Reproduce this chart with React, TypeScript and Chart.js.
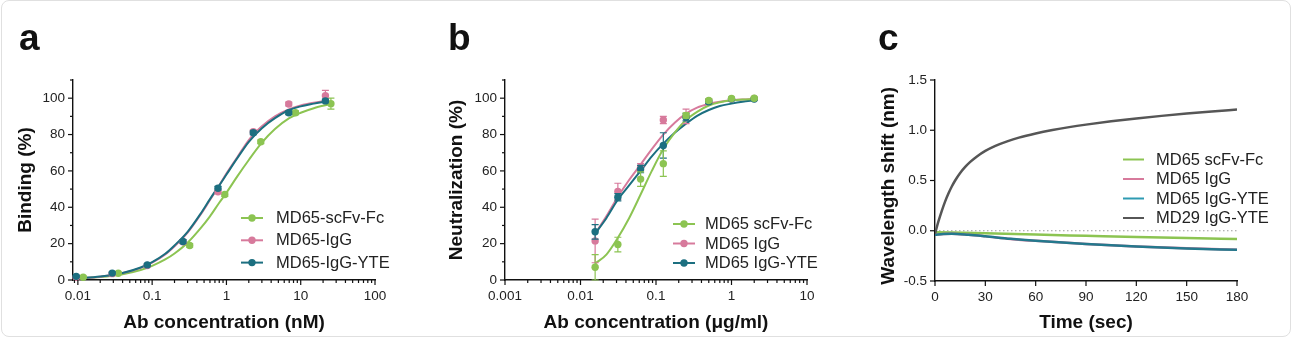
import React, { useEffect, useRef } from 'react';
import { Chart, registerables } from 'chart.js';

Chart.register(...registerables);

const FONT = "'Liberation Sans', Arial, Helvetica, sans-serif";
Chart.defaults.font.family = FONT;
Chart.defaults.color = '#222';

const GREEN = '#8cc452';
const PINK = '#d77a9c';
const TEAL = '#1c6f80';
const TEAL_C = '#24798d';
const GRAY = '#565656';
const AXIS = '#111111';

// ---------------- Panel a : binding ----------------
const aSeriesNames = ['MD65-scFv-Fc', 'MD65-IgG', 'MD65-IgG-YTE'];
const aXTickValues = [0.01, 0.1, 1, 10, 100];
const aXTickLabels = ['0.01', '0.1', '1', '10', '100'];
const aYTickValues = [0, 10, 20, 30, 40, 50, 60, 70, 80, 90, 100, 110];
const aYTickLabels = ['0', '', '20', '', '40', '', '60', '', '80', '', '100', ''];

const aScfvConc = [0.0118, 0.035, 0.32, 0.95, 2.9, 8.5, 25.5];
const aScfvBinding = [1.5, 3.7, 19, 47, 76, 92, 97];
const aScfvErr = [0.6, 0.6, 1, 1, 1, 1, 3];
const aIgGConc = [0.0095, 0.029, 0.086, 0.26, 0.77, 2.3, 6.9, 21.5];
const aIgGBinding = [1.5, 3.5, 8, 21, 48.5, 81.5, 96.8, 101.3];
const aIgGErr = [0.5, 0.5, 0.6, 1, 1, 1, 1, 3];
const aYteConc = [0.0095, 0.029, 0.086, 0.26, 0.77, 2.3, 6.9, 21.5];
const aYteBinding = [2, 3.8, 8.3, 21.2, 50.5, 81, 92, 98.5];
const aYteErr = [0.5, 0.5, 0.6, 1, 1, 1, 1, 1];

const aScfvFitConc = [0.0095, 0.02, 0.04, 0.07, 0.1, 0.15, 0.2, 0.3, 0.45, 0.6, 0.8, 1, 1.4, 2, 3, 4.5, 7, 10, 15, 25.5];
const aScfvFit = [0.8, 1.6, 3.2, 5.5, 7.8, 11.3, 14.6, 20.5, 28.5, 35, 42.5, 48, 57, 66, 75.5, 83, 89, 92, 94.5, 96.8];
const aIgGFitConc = [0.0095, 0.02, 0.04, 0.07, 0.1, 0.15, 0.2, 0.3, 0.45, 0.6, 0.8, 1, 1.4, 2, 3, 4.5, 7, 10, 15, 21.5];
const aIgGFit = [0.8, 1.8, 3.8, 6.7, 9.5, 14, 18.5, 26, 36, 44, 52, 58.5, 67.5, 77, 84.5, 90, 94, 96, 97.5, 98.5];
const aYteFitConc = [0.0095, 0.02, 0.04, 0.07, 0.1, 0.15, 0.2, 0.3, 0.45, 0.6, 0.8, 1, 1.4, 2, 3, 4.5, 7, 10, 15, 21.5];
const aYteFit = [0.9, 1.9, 3.9, 6.9, 9.8, 14.4, 19, 26.5, 36.5, 44.5, 52, 58, 67, 76, 83.5, 89, 93.5, 95.5, 97, 98.2];

// ---------------- Panel b : neutralization ----------------
const bSeriesNames = ['MD65 scFv-Fc', 'MD65 IgG', 'MD65 IgG-YTE'];
const bXTickValues = [0.001, 0.01, 0.1, 1, 10];
const bXTickLabels = ['0.001', '0.01', '0.1', '1', '10'];
const bYTickValues = [0, 10, 20, 30, 40, 50, 60, 70, 80, 90, 100, 110];
const bYTickLabels = ['0', '', '20', '', '40', '', '60', '', '80', '', '100', ''];

const bConc = [0.015625, 0.03125, 0.0625, 0.125, 0.25, 0.5, 1, 2];
const bScfv = [7, 19.5, 55.5, 64, 90.5, 98.7, 99.8, 100];
const bScfvErr = [7, 4, 4, 7, 1.5, 1, 0.5, 0.5];
const bIgG = [21.5, 48.7, 62, 88, 90, 98.5, 99.5, 99.8];
const bIgGErr = [12, 4.5, 2, 2, 4, 1, 0.5, 0.5];
const bYte = [26.5, 45.5, 61, 74, 89.5, 98, 99.5, 99.5];
const bYteErr = [4, 2, 2, 7, 2, 1, 0.5, 0.5];

const bFitConc = [0.0156, 0.022, 0.031, 0.044, 0.0625, 0.088, 0.125, 0.177, 0.25, 0.35, 0.5, 0.7, 1, 1.4, 2];
const bScfvFit = [9, 14, 23, 34, 47, 60, 72, 81, 88, 92.5, 96, 97.8, 98.8, 99.3, 99.5];
const bIgGFit = [25.5, 35, 45.5, 55, 63.5, 72, 80, 86.5, 91.5, 94.8, 96.8, 98, 98.8, 99.3, 99.5];
const bYteFit = [25.5, 34, 44, 52, 60, 68, 75, 81, 86, 90.3, 93.5, 95.7, 97, 98, 98.8];

// ---------------- Panel c : kinetics ----------------
const cSeriesNames = ['MD65 scFv-Fc', 'MD65 IgG', 'MD65 IgG-YTE', 'MD29 IgG-YTE'];
const cXTickValues = [0, 30, 60, 90, 120, 150, 180];
const cXTickLabels = ['0', '30', '60', '90', '120', '150', '180'];
const cYTickValues = [-0.5, 0, 0.5, 1, 1.5];
const cYTickLabels = ['-0.5', '0.0', '0.5', '1.0', '1.5'];

const cScfvTime = [0, 30, 60, 90, 120, 150, 180];
const cScfvShift = [-0.015, -0.025, -0.038, -0.05, -0.062, -0.073, -0.083];
const cIgGTime = [0, 5, 10, 20, 30, 45, 60, 90, 120, 150, 180];
const cIgGShift = [-0.04, -0.033, -0.031, -0.041, -0.056, -0.081, -0.1, -0.131, -0.156, -0.175, -0.188];
const cYteTime = [0, 5, 10, 20, 30, 45, 60, 90, 120, 150, 180];
const cYteShift = [-0.04, -0.032, -0.03, -0.04, -0.055, -0.08, -0.1, -0.132, -0.157, -0.176, -0.19];
const cMd29Time = [0, 2, 4, 6, 8, 10, 12, 15, 18, 21, 25, 30, 36, 43, 50, 60, 70, 80, 90, 105, 120, 135, 150, 165, 180];
const cMd29Shift = [-0.03, 0.09, 0.195, 0.29, 0.37, 0.44, 0.5, 0.575, 0.635, 0.685, 0.74, 0.795, 0.845, 0.89, 0.927, 0.968, 1.002, 1.031, 1.056, 1.089, 1.118, 1.143, 1.166, 1.187, 1.206];
const cBaselineTime = [0, 180];
const cBaselineShift = [0, 0];

// ---------------- helpers ----------------
function buildLogTicks(min: number, max: number): number[] {
  const out: number[] = [];
  const d0 = Math.floor(Math.log10(min));
  const d1 = Math.ceil(Math.log10(max));
  for (let d = d0; d <= d1; d++) {
    for (let k = 1; k <= 9; k++) {
      const v = Number((k * Math.pow(10, d)).toPrecision(6));
      if (v >= min * 0.9999 && v <= max * 1.0001) out.push(v);
    }
  }
  return out;
}

function labelFor(values: number[], labels: string[]) {
  return (v: number) => {
    const i = values.findIndex((m) => Math.abs(m - v) <= Math.abs(m) * 1e-6 + 1e-9);
    return i >= 0 ? labels[i] : '';
  };
}

const tickFont = { size: 13.5 };
const titleFont = { size: 19, weight: 'bold' as const };

function xScale(kind: 'logarithmic' | 'linear', min: number, max: number, tickValues: number[], majors: number[], labels: string[], title: string, height: number) {
  const lab = labelFor(majors, labels);
  return {
    type: kind,
    min,
    max,
    afterBuildTicks: (s: any) => {
      s.ticks = tickValues.map((v) => ({ value: v }));
    },
    afterFit: (s: any) => {
      s.height = height;
    },
    grid: { display: false, drawTicks: false },
    border: { display: true, color: AXIS, width: 1.4 },
    ticks: { callback: (v: any) => lab(Number(v)), padding: 8, font: tickFont, color: '#222', autoSkip: false, maxRotation: 0, minRotation: 0 },
    title: { display: true, text: title, font: titleFont, color: '#111', padding: { top: 0, bottom: 8 } },
  };
}

function yScale(min: number, max: number, tickValues: number[], labels: string[], title: string, width: number, titlePad: number) {
  const lab = labelFor(tickValues, labels);
  return {
    type: 'linear',
    min,
    max,
    afterBuildTicks: (s: any) => {
      s.ticks = tickValues.map((v) => ({ value: v }));
    },
    afterFit: (s: any) => {
      s.width = width;
    },
    grid: { display: false, drawTicks: false },
    border: { display: true, color: AXIS, width: 1.4 },
    ticks: { callback: (v: any) => lab(Number(v)), padding: 8, font: tickFont, color: '#222', autoSkip: false },
    title: { display: true, text: title, font: titleFont, color: '#111', padding: { top: titlePad, bottom: 0 } },
  };
}

function pts(xs: number[], ys: number[]) {
  return xs.map((x, i) => ({ x, y: ys[i] }));
}

function pointsDataset(label: string, xs: number[], ys: number[], errs: number[], color: string, order: number) {
  return {
    label,
    data: pts(xs, ys),
    errorBars: errs,
    backgroundColor: color,
    borderColor: color,
    pointRadius: 3.7,
    pointHoverRadius: 3.7,
    pointBorderWidth: 0,
    showLine: false,
    order,
    clip: false,
  };
}

function curveDataset(label: string, xs: number[], ys: number[], color: string, width: number, order: number, dash?: number[]) {
  return {
    label,
    data: pts(xs, ys),
    borderColor: color,
    backgroundColor: color,
    borderWidth: width,
    borderDash: dash || [],
    pointRadius: 0,
    pointHoverRadius: 0,
    showLine: true,
    cubicInterpolationMode: 'monotone',
    fill: false,
    order,
  };
}

const errorBarsPlugin = {
  id: 'errorBars',
  beforeDatasetDraw(chart: any, args: any) {
    const ds = chart.data.datasets[args.index];
    if (!ds.errorBars) return;
    const ys = chart.scales.y;
    const ctx = chart.ctx;
    ctx.save();
    ctx.strokeStyle = ds.borderColor;
    ctx.lineWidth = 1.2;
    args.meta.data.forEach((el: any, j: number) => {
      const e = ds.errorBars[j];
      if (!e) return;
      const v = ds.data[j].y;
      const top = ys.getPixelForValue(v + e);
      const bot = ys.getPixelForValue(v - e);
      const x = el.x;
      ctx.beginPath();
      ctx.moveTo(x, top);
      ctx.lineTo(x, bot);
      ctx.moveTo(x - 3.5, top);
      ctx.lineTo(x + 3.5, top);
      ctx.moveTo(x - 3.5, bot);
      ctx.lineTo(x + 3.5, bot);
      ctx.stroke();
    });
    ctx.restore();
  },
};

const axisTicksPlugin = {
  id: 'axisTicks',
  afterDraw(chart: any) {
    const ctx = chart.ctx;
    ctx.save();
    ctx.strokeStyle = AXIS;
    ctx.lineWidth = 1.2;
    ['x', 'y'].forEach((id) => {
      const s = chart.scales[id];
      s.ticks.forEach((t: any) => {
        const major = t.label !== '' && t.label != null;
        const len = major ? 5 : 3;
        const p = s.getPixelForValue(t.value);
        ctx.beginPath();
        if (id === 'x') {
          ctx.moveTo(p, s.top);
          ctx.lineTo(p, s.top + len);
        } else {
          ctx.moveTo(s.right, p);
          ctx.lineTo(s.right - len, p);
        }
        ctx.stroke();
      });
    });
    ctx.restore();
  },
};

function makeLegend(names: string[], colors: string[], x: number, y: number, rowH: number, lineLen: number, gap: number, marker: boolean) {
  return {
    id: 'panelLegend',
    afterDraw(chart: any) {
      const ctx = chart.ctx;
      ctx.save();
      names.forEach((name, i) => {
        const yy = y + i * rowH;
        ctx.strokeStyle = colors[i];
        ctx.lineWidth = 2;
        ctx.beginPath();
        ctx.moveTo(x, yy);
        ctx.lineTo(x + lineLen, yy);
        ctx.stroke();
        if (marker) {
          ctx.fillStyle = colors[i];
          ctx.beginPath();
          ctx.arc(x + lineLen / 2, yy, 3.7, 0, Math.PI * 2);
          ctx.fill();
        }
        ctx.fillStyle = '#222';
        ctx.font = `16.5px ${FONT}`;
        ctx.textAlign = 'left';
        ctx.textBaseline = 'middle';
        ctx.fillText(name, x + lineLen + gap, yy + 0.5);
      });
      ctx.restore();
    },
  };
}

function baseOptions(padRight: number, xs: any, ys: any) {
  return {
    responsive: false,
    animation: false,
    devicePixelRatio: 1,
    layout: { padding: { left: 0, top: 80, right: padRight, bottom: 0 } },
    plugins: { legend: { display: false }, tooltip: { enabled: false } },
    events: [],
    scales: { x: xs, y: ys },
  };
}

function buildA(): any {
  const min = 0.0086;
  const max = 100;
  return {
    type: 'scatter',
    data: {
      datasets: [
        pointsDataset(aSeriesNames[2], aYteConc, aYteBinding, aYteErr, TEAL, 1),
        pointsDataset(aSeriesNames[1], aIgGConc, aIgGBinding, aIgGErr, PINK, 2),
        pointsDataset(aSeriesNames[0], aScfvConc, aScfvBinding, aScfvErr, GREEN, 3),
        curveDataset(aSeriesNames[2] + ' fit', aYteFitConc, aYteFit, TEAL, 2, 4),
        curveDataset(aSeriesNames[1] + ' fit', aIgGFitConc, aIgGFit, PINK, 2, 5),
        curveDataset(aSeriesNames[0] + ' fit', aScfvFitConc, aScfvFit, GREEN, 2, 6),
      ],
    },
    options: baseOptions(
      55,
      xScale('logarithmic', min, max, buildLogTicks(0.009, max), aXTickValues, aXTickLabels, 'Ab concentration (nM)', 62),
      yScale(0, 110, aYTickValues, aYTickLabels, 'Binding (%)', 73, 14)
    ),
    plugins: [errorBarsPlugin, axisTicksPlugin, makeLegend(aSeriesNames, [GREEN, PINK, TEAL], 241, 218, 22.3, 22, 13, true)],
  };
}

function buildB(): any {
  const min = 0.001;
  const max = 10;
  return {
    type: 'scatter',
    data: {
      datasets: [
        pointsDataset(bSeriesNames[0], bConc, bScfv, bScfvErr, GREEN, 1),
        pointsDataset(bSeriesNames[2], bConc, bYte, bYteErr, TEAL, 2),
        pointsDataset(bSeriesNames[1], bConc, bIgG, bIgGErr, PINK, 3),
        curveDataset(bSeriesNames[0] + ' fit', bFitConc, bScfvFit, GREEN, 2, 4),
        curveDataset(bSeriesNames[2] + ' fit', bFitConc, bYteFit, TEAL, 2, 5),
        curveDataset(bSeriesNames[1] + ' fit', bFitConc, bIgGFit, PINK, 2, 6),
      ],
    },
    options: baseOptions(
      53,
      xScale('logarithmic', min, max, buildLogTicks(min, max), bXTickValues, bXTickLabels, 'Ab concentration (\u03bcg/ml)', 62),
      yScale(0, 110, bYTickValues, bYTickLabels, 'Neutralization (%)', 75, 15)
    ),
    plugins: [errorBarsPlugin, axisTicksPlugin, makeLegend(bSeriesNames, [GREEN, PINK, TEAL], 243, 224, 19.5, 22, 10, true)],
  };
}

function buildC(): any {
  return {
    type: 'scatter',
    data: {
      datasets: [
        curveDataset(cSeriesNames[3], cMd29Time, cMd29Shift, GRAY, 2.5, 1),
        curveDataset(cSeriesNames[2], cYteTime, cYteShift, TEAL_C, 2.5, 2),
        curveDataset(cSeriesNames[1], cIgGTime, cIgGShift, PINK, 2.5, 3),
        curveDataset(cSeriesNames[0], cScfvTime, cScfvShift, GREEN, 2.5, 4),
        curveDataset('baseline', cBaselineTime, cBaselineShift, '#9a9a9a', 1, 5, [1.5, 2.5]),
      ],
    },
    options: baseOptions(
      57,
      xScale('linear', 0, 180, cXTickValues, cXTickValues, cXTickLabels, 'Time (sec)', 61),
      yScale(-0.5, 1.5, cYTickValues, cYTickLabels, 'Wavelength shift (nm)  ', 75, 17)
    ),
    plugins: [errorBarsPlugin, axisTicksPlugin, makeLegend(cSeriesNames, [GREEN, PINK, '#2e9bb2', GRAY], 263, 159.5, 19.5, 21, 12, false)],
  };
}

function ChartPanel({ left, width, build }: { left: number; width: number; build: () => any }) {
  const ref = useRef<HTMLCanvasElement>(null);
  useEffect(() => {
    if (!ref.current) return;
    const chart = new Chart(ref.current, build());
    return () => chart.destroy();
  }, [build]);
  return (
    <canvas
      ref={ref}
      width={width}
      height={342}
      style={{ position: 'absolute', left, top: 0, width, height: 342 }}
    />
  );
}

function PanelLetter({ text, left }: { text: string; left: number }) {
  return (
    <div
      style={{
        position: 'absolute',
        left,
        top: 19,
        fontFamily: FONT,
        fontWeight: 'bold',
        fontSize: 37,
        lineHeight: '37px',
        color: '#111',
      }}
    >
      {text}
    </div>
  );
}

export default function App() {
  return (
    <div
      style={{
        position: 'fixed',
        left: 0,
        top: 0,
        width: 1294,
        height: 342,
        background: '#fff',
        overflow: 'hidden',
      }}
    >
      <div
        style={{
          position: 'absolute',
          left: 1,
          top: 0,
          width: 1290,
          height: 337,
          border: '1px solid #e0e0e0',
          borderRadius: 8,
          boxSizing: 'border-box',
        }}
      />
      <ChartPanel left={0} width={430} build={buildA} />
      <ChartPanel left={430} width={430} build={buildB} />
      <ChartPanel left={860} width={434} build={buildC} />
      <PanelLetter text="a" left={19} />
      <PanelLetter text="b" left={448} />
      <PanelLetter text="c" left={878} />
    </div>
  );
}
